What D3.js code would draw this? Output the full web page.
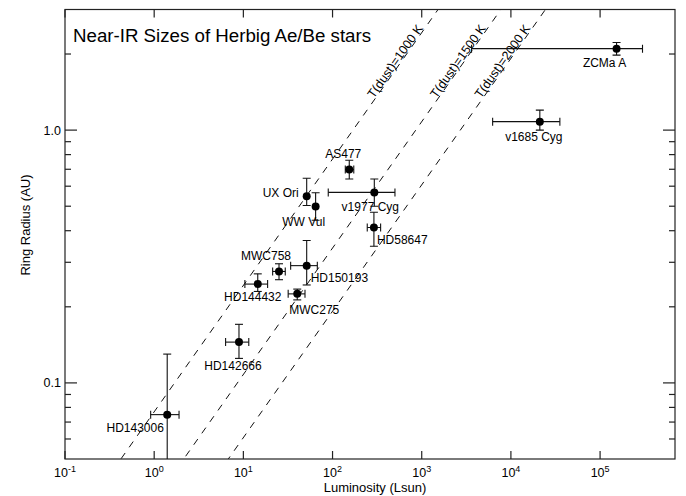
<!DOCTYPE html>
<html>
<head>
<meta charset="utf-8">
<script src="https://cdn.jsdelivr.net/npm/d3@7"></script>
<style>
  body { margin: 0; background: #fff; }
  svg text { font-family: "Liberation Sans", Arial, Helvetica, sans-serif; fill: #000; }
</style>
</head>
<body>
<div id="chart"></div>
<script>
// star names, luminosity (Lsun) and ring radius (AU), with error bar ends
const stars = ["ZCMa A", "v1685 Cyg", "AS477", "UX Ori", "WW Vul", "v1977 Cyg", "HD58647",
  "MWC758", "HD150193", "HD144432", "MWC275", "HD142666", "HD143006"];
const lum    = [1.53e5, 2.11e4, 154, 51.3, 64.6, 294, 291, 25.1, 51.3, 14.5, 40.2, 8.93, 1.40];
const lumLo  = [3620, 6240, 139, null, null, 89.5, 245, 21.3, 33.9, 10.4, 31.8, 6.32, 0.913];
const lumHi  = [2.99e5, 3.54e4, 173, null, null, 501, 346, 29.5, 67.5, 18.7, 49.1, 11.5, 1.90];
const radius = [2.10, 1.08, 0.698, 0.547, 0.499, 0.567, 0.412, 0.276, 0.291, 0.246, 0.225, 0.145, 0.0749];
const radLo  = [1.98, 1.00, 0.641, 0.503, 0.44, 0.50, 0.347, 0.256, 0.244, 0.230, 0.213, 0.125, 0.02];
const radHi  = [2.22, 1.20, 0.760, 0.645, 0.565, 0.641, 0.473, 0.296, 0.366, 0.270, 0.235, 0.1705, 0.130];

// dust sublimation temperatures for the R ~ sqrt(L) lines
const dustTemps = [1000, 1500, 2000];

const xTickExp = [-1, 0, 1, 2, 3, 4, 5];
const yMajor = [0.1, 1];
const yLabels = ["0.1", "1.0"];
const yMinor = [0.06, 0.07, 0.08, 0.09, 0.2, 0.3, 0.4, 0.5, 0.6, 0.7, 0.8, 0.9, 2];

// where each star label sits relative to its point
const labelPlace = {
  "ZCMa A": [-12, 18, "middle"], "v1685 Cyg": [-6, 19, "middle"], "AS477": [-6, -12, "middle"],
  "UX Ori": [-8, 1, "end"], "WW Vul": [-12, 19.5, "middle"], "v1977 Cyg": [-4, 18.5, "middle"],
  "HD58647": [3, 17, "start"], "MWC758": [-13, -11, "middle"], "HD150193": [4, 16, "start"],
  "HD144432": [-5, 17, "middle"], "MWC275": [17, 20.5, "middle"], "HD142666": [-6, 28, "middle"],
  "HD143006": [-32, 17, "middle"]
};

let width = 686, height = 496;
let margin = { left: 65, right: 11, top: 9.5, bottom: 37 };

let x = d3.scaleLog().domain([0.1, Math.pow(10, 5.84)]).range([margin.left, width - margin.right]);
let y = d3.scaleLog().domain([0.05, 3]).range([height - margin.bottom, margin.top]);

let svg = d3.select('#chart').append('svg')
  .attr('width', width)
  .attr('height', height);

svg.append('defs').append('clipPath').attr('id', 'plot')
  .append('rect')
  .attr('x', x.range()[0]).attr('y', y.range()[1])
  .attr('width', x.range()[1] - x.range()[0])
  .attr('height', y.range()[0] - y.range()[1]);

let ink = '#111';

// dust lines
let dustR = (L, T) => 1.08 * Math.sqrt(L / 1000) * Math.pow(1500 / T, 2);
let slopeAngle = Math.atan2(y(1) - y(10), x(100) - x(1)) * 180 / Math.PI;
let lineGen = d3.line().x(d => x(d[0])).y(d => y(d[1]));

dustTemps.forEach(T => {
  let pts = [0.01, 1e7].map(L => [L, dustR(L, T)]);
  svg.append('path')
    .attr('d', lineGen(pts))
    .attr('clip-path', 'url(#plot)')
    .attr('fill', 'none')
    .attr('stroke', ink)
    .attr('stroke-width', 1)
    .attr('stroke-dasharray', '7,7');

  let rLab = 1.32;
  let lLab = 1000 * Math.pow(rLab / (1.08 * Math.pow(1500 / T, 2)), 2);
  svg.append('text')
    .attr('transform', `translate(${x(lLab)},${y(rLab)}) rotate(${-slopeAngle})`)
    .attr('dy', -1)
    .style('font-size', '12.5px')
    .text(`T(dust)=${T} K`);
});

// axes box
let g = svg.append('g').attr('stroke', '#222').attr('stroke-width', 1.2).attr('fill', 'none');
g.append('rect')
  .attr('x', x.range()[0]).attr('y', y.range()[1])
  .attr('width', x.range()[1] - x.range()[0])
  .attr('height', y.range()[0] - y.range()[1]);

let x0 = x.range()[0], x1 = x.range()[1], yb = y.range()[0], yt = y.range()[1];

xTickExp.forEach(e => {
  let px = x(Math.pow(10, e));
  g.append('line').attr('x1', px).attr('x2', px).attr('y1', yb).attr('y2', yb - 8);
  g.append('line').attr('x1', px).attr('x2', px).attr('y1', yt).attr('y2', yt + 8);
  let t = svg.append('text')
    .attr('x', px).attr('y', yb + 18)
    .attr('text-anchor', 'middle')
    .style('font-size', '12.5px');
  t.append('tspan').text('10');
  t.append('tspan').attr('dy', -5).style('font-size', '9px').text(e);
});

yMajor.forEach((v, i) => {
  g.append('line').attr('x1', x0).attr('x2', x0 + 12).attr('y1', y(v)).attr('y2', y(v));
  g.append('line').attr('x1', x1).attr('x2', x1 - 12).attr('y1', y(v)).attr('y2', y(v));
  svg.append('text')
    .attr('x', x0 - 4).attr('y', y(v) + 4.5)
    .attr('text-anchor', 'end')
    .style('font-size', '12.5px')
    .text(yLabels[i]);
});

yMinor.forEach(v => {
  g.append('line').attr('x1', x0).attr('x2', x0 + 6).attr('y1', y(v)).attr('y2', y(v));
  g.append('line').attr('x1', x1).attr('x2', x1 - 6).attr('y1', y(v)).attr('y2', y(v));
});

// axis titles
svg.append('text')
  .attr('x', (x0 + x1) / 2 + 5).attr('y', 492)
  .attr('text-anchor', 'middle')
  .style('font-size', '13px')
  .text('Luminosity (Lsun)');

svg.append('text')
  .attr('transform', `translate(30,225) rotate(-90)`)
  .attr('text-anchor', 'middle')
  .style('font-size', '13px')
  .text('Ring Radius (AU)');

svg.append('text')
  .attr('x', 73).attr('y', 41.5)
  .style('font-size', '18.7px')
  .text('Near-IR Sizes of Herbig Ae/Be stars');

// data points with error bars
let pg = svg.append('g').attr('clip-path', 'url(#plot)');
let cap = 4;

stars.forEach((name, i) => {
  let px = x(lum[i]), py = y(radius[i]);
  let eb = pg.append('g').attr('stroke', ink).attr('stroke-width', 1.1);
  if (lumLo[i] != null) {
    let xl = x(lumLo[i]), xh = x(lumHi[i]);
    eb.append('line').attr('x1', xl).attr('x2', xh).attr('y1', py).attr('y2', py);
    eb.append('line').attr('x1', xl).attr('x2', xl).attr('y1', py - cap).attr('y2', py + cap);
    eb.append('line').attr('x1', xh).attr('x2', xh).attr('y1', py - cap).attr('y2', py + cap);
  }
  let yl = y(radLo[i]), yh = y(radHi[i]);
  eb.append('line').attr('x1', px).attr('x2', px).attr('y1', yl).attr('y2', yh);
  eb.append('line').attr('x1', px - cap).attr('x2', px + cap).attr('y1', yl).attr('y2', yl);
  eb.append('line').attr('x1', px - cap).attr('x2', px + cap).attr('y1', yh).attr('y2', yh);

  pg.append('circle')
    .attr('cx', px).attr('cy', py).attr('r', 4)
    .attr('fill', '#000');

  let lp = labelPlace[name];
  svg.append('text')
    .attr('x', px + lp[0]).attr('y', py + lp[1])
    .attr('text-anchor', lp[2])
    .style('font-size', '12px')
    .text(name);
});
</script>
</body>
</html>
